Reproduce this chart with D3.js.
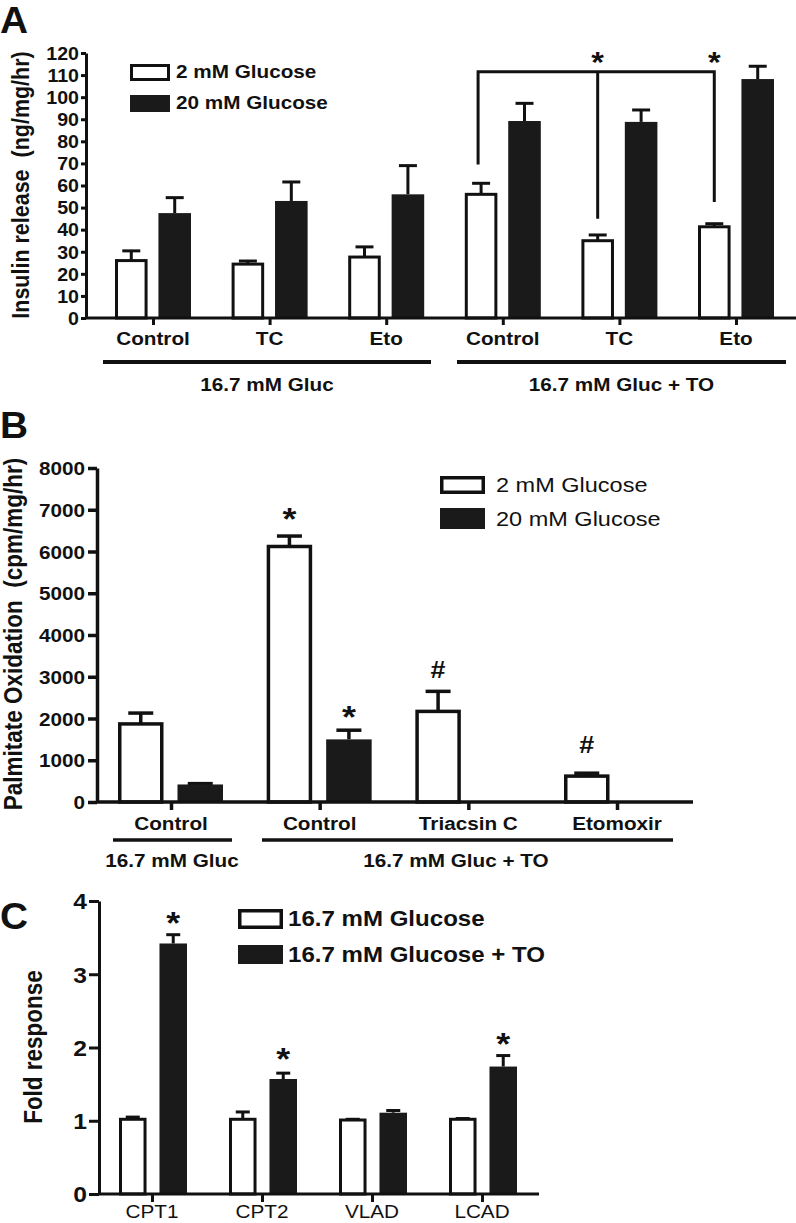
<!DOCTYPE html>
<html>
<head>
<meta charset="utf-8">
<script src="https://cdn.jsdelivr.net/npm/d3@7"></script>
<style>
  html, body { margin: 0; padding: 0; background: #fff; }
  svg { display: block; }
  text { font-family: 'Liberation Sans', Arial, Helvetica, sans-serif; fill: #111; white-space: pre; }
</style>
</head>
<body>
<script>
// ---------------- DATA ----------------
// Panel A: Insulin release (ng/mg/hr)
const A_categories = ["Control", "TC", "Eto", "Control", "TC", "Eto"];
const A_groups = ["16.7 mM Gluc", "16.7 mM Gluc + TO"];
const A_series = ["2 mM Glucose", "20 mM Glucose"];
const A_low = [26, 24.4, 27.6, 56, 35, 41.3];
const A_lowErr = [4.4, 1.4, 4.6, 5, 2.6, 1.4];
const A_high = [47.5, 53, 56, 89.2, 88.8, 108.2];
const A_highErr = [7, 8.6, 13, 8, 5.4, 5.8];
const A_ticks = [0, 10, 20, 30, 40, 50, 60, 70, 80, 90, 100, 110, 120];

// Panel B: Palmitate oxidation (cpm/mg/hr)
const B_categories = ["Control", "Control", "Triacsin C", "Etomoxir"];
const B_groups = ["16.7 mM Gluc", "16.7 mM Gluc + TO"];
const B_series = ["2 mM Glucose", "20 mM Glucose"];
const B_low = [1870, 6120, 2170, 620];
const B_lowErr = [260, 250, 480, 70];
const B_high = [420, 1500, null, null];
const B_highErr = [20, 220, null, null];
const B_ticks = [0, 1000, 2000, 3000, 4000, 5000, 6000, 7000, 8000];

// Panel C: Fold response
const C_categories = ["CPT1", "CPT2", "VLAD", "LCAD"];
const C_series = ["16.7 mM Glucose", "16.7 mM Glucose + TO"];
const C_ctrl = [1.02, 1.02, 1.01, 1.02];
const C_ctrlErr = [0.03, 0.1, 0.01, 0.01];
const C_to = [3.42, 1.57, 1.11, 1.74];
const C_toErr = [0.12, 0.08, 0.03, 0.15];
const C_ticks = [0, 1, 2, 3, 4];

// ---------------- DRAWING ----------------
const W = 796, H = 1223;
const SX = 1.12;
const INK = "#111";
const DARK = "#1a1a1a";

const svg = d3.select("body").append("svg").attr("width", W).attr("height", H);
svg.append("rect").attr("width", W).attr("height", H).attr("fill", "#fff");

function label(g, x, y, str, o = {}) {
  const sx = o.sx ?? SX;
  let tr = `translate(${x},${y}) scale(${sx},1)`;
  if (o.rot) tr += ` rotate(${o.rot})`;
  return g.append("text")
    .attr("transform", tr)
    .attr("text-anchor", o.anchor || "middle")
    .style("font-size", o.size + "px")
    .style("font-weight", o.weight || "bold")
    .text(str);
}
function mark(g, cx, cy, ch, size) {
  const off = ch === "*" ? 0.52 * size : 0.36 * size;
  return label(g, cx, cy + off, ch, { size, weight: "bold" });
}
function yAxis(g, scale, x, ticks, o) {
  const ax = g.append("g").attr("transform", `translate(${x},0)`)
    .call(d3.axisLeft(scale).tickValues(ticks).tickSize(o.tick).tickSizeOuter(0).tickFormat(d => d));
  ax.select(".domain").attr("stroke", INK).attr("stroke-width", o.sw);
  ax.selectAll(".tick line").attr("stroke", INK).attr("stroke-width", o.sw);
  ax.selectAll(".tick text")
    .attr("x", null).attr("dy", "0.36em")
    .attr("transform", `translate(${-o.tick - o.pad},0) scale(${SX},1)`)
    .attr("fill", INK)
    .style("font-size", o.size + "px").style("font-weight", "bold")
    .style("font-family", "'Liberation Sans', Arial, sans-serif");
  return ax;
}
function xTicks(g, scale, n, y0, len, sw) {
  const ax = g.append("g").attr("transform", `translate(0,${y0})`)
    .call(d3.axisBottom(scale).tickValues(d3.range(n)).tickSize(len).tickSizeOuter(0).tickFormat(""));
  ax.select(".domain").remove();
  ax.selectAll(".tick line").attr("stroke", INK).attr("stroke-width", sw);
}
function bars(g, xs, sub, ys, vals, errs, series, o) {
  vals.forEach((v, i) => {
    if (v == null) return;
    const x0 = xs(i) + sub(series);
    const w = sub.bandwidth();
    const cx = x0 + w / 2;
    const y0 = ys(0);
    const e = errs[i];
    if (e) {
      g.append("line").attr("x1", cx).attr("x2", cx).attr("y1", ys(v)).attr("y2", ys(v + e))
        .attr("stroke", INK).attr("stroke-width", o.sw);
      g.append("line").attr("x1", cx - o.cap / 2).attr("x2", cx + o.cap / 2)
        .attr("y1", ys(v + e)).attr("y2", ys(v + e))
        .attr("stroke", INK).attr("stroke-width", o.sw);
    }
    if (series === 0) {
      g.append("rect").attr("x", x0 + o.sw / 2).attr("width", w - o.sw)
        .attr("y", ys(v)).attr("height", y0 - ys(v))
        .attr("fill", "#fff").attr("stroke", INK).attr("stroke-width", o.sw);
    } else {
      g.append("rect").attr("x", x0).attr("width", w)
        .attr("y", ys(v)).attr("height", y0 - ys(v))
        .attr("fill", DARK);
    }
  });
}
function legend(g, x, rows, o) {
  rows.forEach((r, i) => {
    if (i === 0) {
      g.append("rect").attr("x", x + o.sw / 2).attr("y", r.y0 + o.sw / 2)
        .attr("width", o.w - o.sw).attr("height", r.h - o.sw)
        .attr("fill", "#fff").attr("stroke", INK).attr("stroke-width", o.sw);
    } else {
      g.append("rect").attr("x", x).attr("y", r.y0).attr("width", o.w).attr("height", r.h).attr("fill", DARK);
    }
    label(g, x + o.w + o.gap, r.base, r.text, { size: o.size, weight: o.weight, anchor: "start" });
  });
}

// ===== Panel A =====
{
  const g = svg.append("g");
  const yA = d3.scaleLinear().domain([0, 120]).range([318, 53]);
  const xA = d3.scalePoint().domain(d3.range(A_categories.length)).range([153, 736]);
  const subA = d3.scaleBand().domain([0, 1]).range([-38, 38]).paddingInner(0.25);

  label(g, 0, 33, "A", { size: 37, anchor: "start", sx: 1.05 });

  bars(g, xA, subA, yA, A_low, A_lowErr, 0, { sw: 3, cap: 18 });
  bars(g, xA, subA, yA, A_high, A_highErr, 1, { sw: 3, cap: 18 });

  g.append("line").attr("x1", 86).attr("x2", 796).attr("y1", yA(0)).attr("y2", yA(0))
    .attr("stroke", INK).attr("stroke-width", 3);
  xTicks(g, xA, A_categories.length, yA(0), 7, 3);
  yAxis(g, yA, 86, A_ticks, { tick: 5, pad: 2, sw: 3, size: 17.5 });

  label(g, 29, 185, "Insulin release  (ng/mg/hr)", { size: 21.5, rot: -90 });

  A_categories.forEach((c, i) => label(g, xA(i), 345, c, { size: 18.5 }));
  const gl = [[103, 431], [457, 786]];
  gl.forEach((s, k) => {
    g.append("line").attr("x1", s[0]).attr("x2", s[1]).attr("y1", 362).attr("y2", 362)
      .attr("stroke", INK).attr("stroke-width", 4);
    label(g, (s[0] + s[1]) / 2, 391, A_groups[k], { size: 18.5 });
  });

  // significance bracket
  const xl = xA(3) + subA(0) + subA.bandwidth() / 2 - 3;
  const xm = xA(4) + subA(0) + subA.bandwidth() / 2;
  const xr = xA(5) + subA(0) + subA.bandwidth() / 2;
  const yTop = yA(111.5);
  g.append("path")
    .attr("d", `M${xl},${yA(69.5)}V${yTop}H${xr}V${yA(52.5)}M${xm},${yTop}V${yA(45)}`)
    .attr("fill", "none").attr("stroke", INK).attr("stroke-width", 3);
  mark(g, xm, 57, "*", 29);
  mark(g, xr, 57, "*", 29);

  legend(g, 130, [
    { y0: 64, h: 17, base: 78, text: A_series[0] },
    { y0: 95, h: 17, base: 109, text: A_series[1] }
  ], { w: 40, gap: 6, sw: 3, size: 18.5, weight: "bold" });
}

// ===== Panel B =====
{
  const g = svg.append("g");
  const yB = d3.scaleLinear().domain([0, 8000]).range([802, 468]);
  const xB = d3.scalePoint().domain(d3.range(B_categories.length)).range([171, 617]);
  const subB = d3.scaleBand().domain([0, 1]).range([-53, 52]).paddingInner(0.235);

  label(g, 0, 438, "B", { size: 37, anchor: "start", sx: 1.05 });

  bars(g, xB, subB, yB, B_low, B_lowErr, 0, { sw: 3.5, cap: 25 });
  bars(g, xB, subB, yB, B_high, B_highErr, 1, { sw: 3.5, cap: 25 });

  g.append("line").attr("x1", 97).attr("x2", 693).attr("y1", yB(0)).attr("y2", yB(0))
    .attr("stroke", INK).attr("stroke-width", 3.5);
  xTicks(g, xB, B_categories.length, yB(0), 8, 3.5);
  yAxis(g, yB, 97, B_ticks, { tick: 9, pad: 3, sw: 3.5, size: 18.5 });

  label(g, 22, 634, "Palmitate Oxidation  (cpm/mg/hr)", { size: 22.5, rot: -90 });

  B_categories.forEach((c, i) => label(g, xB(i), 830, c, { size: 18.5 }));
  const gl = [[113, 232], [262, 673]];
  const gx = [172, 456];
  gl.forEach((s, k) => {
    g.append("line").attr("x1", s[0]).attr("x2", s[1]).attr("y1", 840).attr("y2", 840)
      .attr("stroke", INK).attr("stroke-width", 3.5);
    label(g, gx[k], 867, B_groups[k], { size: 18.5 });
  });

  const cxB = (i, s) => xB(i) + subB(s) + subB.bandwidth() / 2;
  mark(g, cxB(1, 0), 513, "*", 32);
  mark(g, cxB(1, 1), 711, "*", 32);
  mark(g, cxB(2, 0), 669, "#", 24);
  mark(g, cxB(3, 0), 744, "#", 24);

  legend(g, 440, [
    { y0: 476, h: 18, base: 492, text: B_series[0] },
    { y0: 508, h: 21, base: 526, text: B_series[1] }
  ], { w: 45, gap: 11, sw: 3.5, size: 21, weight: "normal" });
}

// ===== Panel C =====
{
  const g = svg.append("g");
  const yC = d3.scaleLinear().domain([0, 4]).range([1194, 901]);
  const xC = d3.scalePoint().domain(d3.range(C_categories.length)).range([152, 482]);
  const subC = d3.scaleBand().domain([0, 1]).range([-33, 35]).paddingInner(0.32);

  label(g, 0, 929, "C", { size: 37, anchor: "start", sx: 1.05 });

  bars(g, xC, subC, yC, C_ctrl, C_ctrlErr, 0, { sw: 3, cap: 14 });
  bars(g, xC, subC, yC, C_to, C_toErr, 1, { sw: 3, cap: 14 });

  g.append("line").attr("x1", 99).attr("x2", 539).attr("y1", yC(0)).attr("y2", yC(0))
    .attr("stroke", INK).attr("stroke-width", 3);
  xTicks(g, xC, C_categories.length, yC(0), 8, 3);
  yAxis(g, yC, 99, C_ticks, { tick: 10, pad: 2, sw: 3, size: 22 });

  label(g, 42, 1047, "Fold response", { size: 22.5, rot: -90 });

  C_categories.forEach((c, i) => label(g, xC(i), 1218, c, { size: 18.5, weight: "normal" }));

  const cxC = (i, s) => xC(i) + subC(s) + subC.bandwidth() / 2;
  mark(g, cxC(0, 1), 917, "*", 32);
  mark(g, cxC(1, 1), 1053, "*", 32);
  mark(g, cxC(3, 1), 1038, "*", 32);

  legend(g, 238, [
    { y0: 909, h: 20, base: 926, text: C_series[0] },
    { y0: 945, h: 19, base: 962, text: C_series[1] }
  ], { w: 45, gap: 5, sw: 3.5, size: 21.5, weight: "bold" });
}
</script>
</body>
</html>
